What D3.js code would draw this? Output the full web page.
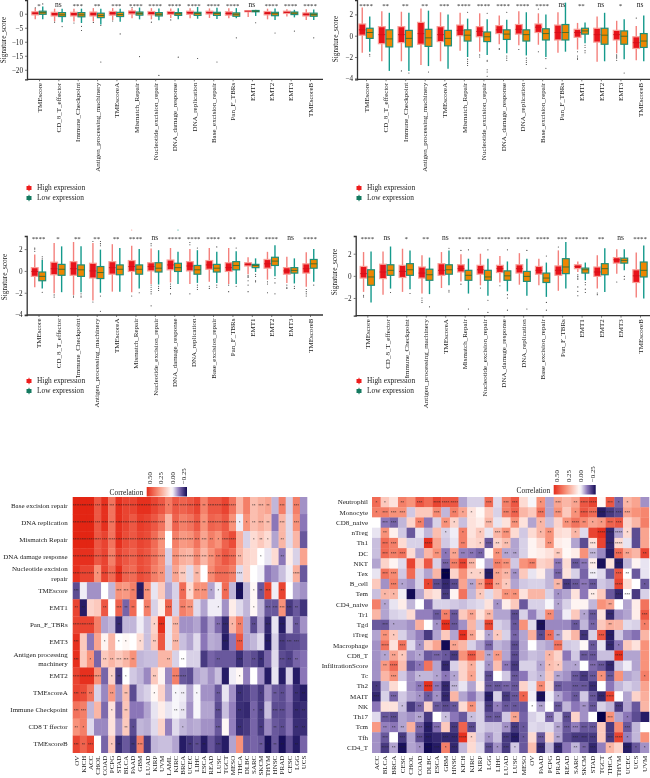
<!DOCTYPE html>
<html><head><meta charset="utf-8">
<script src="https://cdnjs.cloudflare.com/ajax/libs/d3/7.8.5/d3.min.js"></script>
<style>
html,body{margin:0;padding:0;background:#fff}
svg{display:block;filter:blur(0.35px)}
text{font-family:"Liberation Serif",serif;fill:#222}
</style></head><body><svg id="c" width="650" height="778"></svg>
<script>
const signatures=["TMEscore","CD_8_T_effector","Immune_Checkpoint","Antigen_processing_machinery","TMEscoreA","Mismatch_Repair","Nucleotide_excision_repair","DNA_damage_response","DNA_replication","Base_excision_repair","Pan_F_TBRs","EMT1","EMT2","EMT3","TMEscoreB"];
// each box: [low whisker, q1, median, q3, high whisker, outliers]
const panelAHigh=[[-2,-.4,.2,.7,2,[2.1]],[-2.7,-.8,-.1,.5,1.8,[-3]],[-2.8,-.8,-.1,.5,1.8,[-3.3]],[-2.7,-.8,-.1,.6,2,[-3.1]],[-2.3,-.5,.2,.8,2,[-2.6]],[-1.6,-.1,.5,1,2,[2.2]],[-2,-.4,.2,.8,2,[-3]],[-1.5,-.2,.3,.8,1.9,[-2.2]],[-1.6,-.2,.4,.9,2,[]],[-1.5,-.1,.4,.9,1.9,[]],[-1.6,-.5,.1,.7,2,[]],[-1.2,.7,.9,1.1,1.3,[]],[-2,-.4,.2,.8,1.8,[]],[-1,.1,.5,.9,1.6,[]],[-2.2,-.8,-.2,.3,1.6,[]]];
const panelALow=[[-2,-.2,.4,.9,2.6,[3.5]],[-3,-1,-.4,.4,1.8,[-4.6]],[-3.3,-1.1,-.4,.4,1.8,[-4.5,-6]],[-3.8,-1.4,-.6,.2,1.8,[-4.2,-17.2]],[-2.9,-1,-.3,.5,1.8,[-7.2]],[-2,-.5,.1,.6,2.2,[-15.3]],[-2.3,-.8,-.2,.4,1.9,[-22]],[-2,-.6,0,.4,2,[-15.5]],[-1.8,-.6,.1,.5,2.4,[-16]],[-1.9,-.6,.1,.5,2.1,[-17.2]],[-1.6,-.9,-.2,.3,2,[-8.6]],[-.8,.7,.9,1.15,1.4,[-3.2]],[-2.2,-.7,0,.5,1.9,[-6.9]],[-1.3,-.3,.2,.6,1.4,[-6.2]],[-2.2,-.9,-.3,.2,1.5,[-8.6]]];
const panelBHigh=[[-1.6,.05,.55,1.1,2.65,[]],[-2.4,-.75,.1,.85,2.3,[]],[-2.4,-.65,.1,.85,2.25,[-3.3]],[-2.75,-.8,.2,1.25,2.55,[]],[-2.4,-.55,.1,.85,2.2,[]],[-1.4,0,.5,1,2.15,[]],[-1.5,-.1,.4,.85,2.1,[-1.8,-2]],[-.8,.2,.55,.95,1.9,[-1.2,-1.3]],[-.9,.15,.6,1.05,2.3,[-1.3]],[-.85,.3,.8,1.1,2.1,[2.5,-1.5]],[-1.6,-.4,.3,1,2.2,[]],[-1.3,-.15,.3,.6,1.2,[-1.5,-1.9,-2.1,-2.2]],[-2.45,-.6,.1,.7,1.8,[]],[-1.65,-.4,.1,.5,1.4,[-1.8,-1.9,-2,-2.1,-2.3]],[-2.3,-1.2,-.65,-.1,.9,[1.65]]];
const panelBLow=[[-1.5,-.25,.3,.7,1.8,[-1.75,-1.9]],[-3.3,-1.05,-.3,.55,2.15,[]],[-3.3,-1.05,-.25,.5,2.15,[-3.5]],[-2.85,-1,-.2,.6,2.35,[-3.4]],[-3.1,-.95,-.25,.5,2,[]],[-2,-.5,.05,.55,1.6,[2.2,-2.2,-2.4,-2.6,-2.8]],[-1.8,-.55,-.1,.35,1.55,[2.1,-2.3,-2.4,-3.2,-3.4,-3.8]],[-1.65,-.35,.15,.55,1.5,[2.2,-1.9,-2.1,-2.3]],[-1.85,-.5,.1,.55,2.2,[-2.1,-2.3,-2.5,-2.7]],[-2,-.4,.2,.65,2,[-2.15,-3.05]],[-1.5,-.4,.3,1.05,3.1,[]],[-.7,.15,.45,.7,1.25,[-.9,-1.1,-1.4,-1.6]],[-2.4,-.8,.05,.7,2.15,[]],[-2.2,-.8,-.05,.45,1.55,[-3.5]],[-2.4,-1.1,-.5,.2,1.9,[]]];
const panelCHigh=[[-1.5,-.5,-.05,.3,1.5,[1.8,2,2.1]],[-2.05,-.35,.2,.8,2.55,[-2.2,-2.4]],[-2.2,-.4,.2,.85,2.65,[-2.3,-2.4]],[-2.7,-.65,0,.7,2.55,[2.7,-2.85]],[-1.9,-.3,.3,.85,2.45,[]],[-1.95,-.05,.4,.95,2.3,[-2.3,3.75]],[-1.2,0,.4,.75,2.05,[2.5,2.3,-1.3,-1.5,-1.7,-1.9,-2.1,-3.2]],[-1.05,.1,.55,1,2.1,[-1.2,-1.4,-1.6,-2.1]],[-1.2,0,.45,.85,2,[2.4,2.6,-2.1]],[-1,.15,.55,.95,2.1,[-1.4,-1.6]],[-1.2,-.05,.3,.75,2.1,[-1.3,-1.9]],[-.3,.45,.6,.75,1.25,[-.4,-.5,-.6,-.9,-1.3,-1.9]],[-.8,.25,.65,1.05,1.75,[-1,-1.2,-2]],[-1.1,-.3,0,.3,1.3,[-1.3,-1.5,-1.6]],[-1.45,-.2,.2,.65,1.7,[-1.7,-1.9,-2.1,-2.3]]];
const panelCLow=[[-1.6,-.9,-.5,-.1,1,[1.1,1.3,-1.95]],[-1.95,-.4,.15,.6,2.25,[]],[-1.95,-.5,.1,.55,2.25,[-2.1,-2.3,-2.4]],[-2,-.7,-.15,.4,1.95,[2.5,2.7,2.3,-2.3,-3.7]],[-1.9,-.35,.15,.55,2.1,[]],[-1.6,-.3,.15,.55,2,[-2]],[-1.25,-.1,.25,.75,1.9,[-1.4,-1.6,-1.8]],[-1.2,-.05,.3,.7,1.75,[3.75]],[-1.1,-.3,.1,.5,1.9,[2.1,-1.3,-1.5,-1.7]],[-1.1,-.1,.25,.6,1.75,[2.2,-1.3,-1.5]],[-1.2,.1,.5,.85,1.8,[2.1,-1.4]],[-.1,.3,.5,.6,1.15,[-.3,-.5,-.9,-1]],[-.5,.5,.9,1.25,2.35,[-.7,-1.1,-2.1]],[-1.15,-.2,.05,.3,1.15,[-1.4,-1.6]],[-1,.25,.65,1.05,2,[-1.3]]];
const panelDHigh=[[-1.45,-.2,.2,.85,2.15,[-1.75,-1.9]],[-1.7,-.25,.35,1.05,2.2,[]],[-1.45,-.15,.4,.95,2.45,[]],[-1.6,-.2,.25,.8,1.85,[-2,-2.2,-2.4]],[-1.1,.05,.5,1.1,2.15,[]],[-.5,.35,.65,1,1.95,[2.3,-.75]],[-.85,.15,.55,.95,2,[-1.1]],[-.6,.3,.65,.95,1.8,[-.9]],[-.8,.25,.65,1,2.05,[]],[-.85,.15,.5,.85,1.55,[]],[-1.35,.05,.5,.9,2.3,[2.6]],[.35,.65,.85,1,1.3,[.1,-.05,-.2,-.3,-1,-1.4,-1.8]],[-1.15,-.05,.35,.8,1.85,[-1.55,-1.7]],[.2,1.15,1.45,1.65,2.4,[-.55]],[-1.95,-.6,0,.55,2.1,[]]];
const panelDLow=[[-2.4,-.85,-.1,.55,2.2,[]],[-1.15,.05,.5,1,2.65,[-1.5]],[-1.2,.05,.55,1.1,2.3,[-1.6]],[-1.65,-.4,.1,.6,1.65,[-2.8]],[-.85,.15,.55,1,2.3,[2.5,-1.3,-1.45]],[-1.6,-.4,.05,.5,1.55,[2.35,-3]],[-1.8,-.4,-.1,.5,1.55,[2.35,-2.2,-3.3]],[-1.4,-.4,0,.45,1.3,[2.35,-1.7,-2,-3.1]],[-1.8,-.5,-.05,.4,1.55,[2.3,-3]],[-1.9,-.6,-.2,.25,1.2,[1.8,-2.4,-3.1]],[-1.15,.2,.8,1.55,3.05,[]],[-.4,.25,.55,.7,1.2,[-.6,-.8,-1.2,-1.5]],[-1.45,.1,.65,1.1,2.5,[]],[.5,1.15,1.4,1.6,2.4,[-.05,-.3]],[-2.05,-.1,.5,1.25,2.75,[]]];
const sigA=["*","ns","***","**","***","****","****","****","****","****","****","ns","****","****","****"];
const sigB=["****","**","**","**","***","****","****","****","****","****","ns","**","ns","*","ns"];
const sigC=["****","*","**","**","**","****","ns","****","****","****","**","****","****","ns","****"];
const sigD=["****","ns","*","**","ns","****","****","****","****","****","***","****","**","ns","****"];
const legendLabels=["High expression","Low expression"];
const yTicksA=[0,-5,-10,-15,-20], yTicksB=[2,0,-2,-4], yTicksD=[2,0,-2];

const leftRows=["Base excision repair","DNA replication","Mismatch Repair","DNA damage response","Nucleotide excision|repair","TMEscore","EMT1","Pan_F_TBRs","EMT3","Antigen processing|machinery","EMT2","TMEscoreA","Immune Checkpoint","CD8 T ffector","TMEscoreB"];
const leftCols=["OV","KICH","ACC","CHOL","COAD","PCPG","STAD","BLCA","PAAD","GBM","LUAD","KIRP","UVM","LAML","KIRC","BRCA","UCEC","LIHC","ESCA","READ","LUSC","TGCT","MESO","THCA","DLBC","SARC","SKCM","THYM","HNSC","PRAD","CESC","LGG","UCS"];
const leftValues=[
[.58,.58,.58,.45,.55,.38,.55,.5,.5,.55,.55,.5,.45,.36,.45,.42,.45,.5,.34,.45,.45,.5,.38,.2,.35,.18,.22,.25,-.08,.35,-.05,.35,-.12],
[.58,.58,.58,.45,.55,.38,.55,.5,.45,.52,.5,.45,.38,.2,.42,.35,.38,.45,.3,.42,.4,.45,.3,-.02,.3,.18,.22,.18,-.15,.2,-.04,.3,-.15],
[.58,.58,.58,.45,.5,.38,.55,.48,.45,.5,.48,.4,.3,0,.35,.28,.3,.38,.25,.35,.3,.42,.48,.22,-.05,.1,.15,.1,-.1,.2,-.04,.2,-.2],
[.55,.55,.55,.45,.5,.35,.5,.45,.42,.48,.45,.38,.3,-.05,.3,.22,.2,.32,.2,.3,.38,.45,.4,.2,.12,.1,0,-.03,.1,-.15,.05,-.05,.25],
[.55,.5,.5,.3,.5,.4,.55,.42,.4,.48,.45,.35,.3,-.07,.25,.15,-.04,.2,0,.32,.4,.4,.35,-.04,.12,0,-.02,-.15,-.12,-.07,-.02,.22,-.2],
[-.22,-.02,-.12,-.12,0,-.08,.3,.28,.35,-.3,.3,-.03,.15,-.1,-.05,.4,.1,.3,.3,-.1,-.02,.4,-.08,-.32,-.08,.02,-.2,.5,-.02,.5,0,-.1,-.12],
[.5,-.3,.12,.15,.45,0,.42,-.18,.4,0,.35,-.05,.05,.42,-.05,.35,.3,-.04,-.1,-.02,-.02,-.12,.05,-.04,-.08,.02,-.08,-.2,-.2,.3,-.25,-.2,-.26],
[.5,.5,.5,.35,-.1,-.08,-.28,-.08,-.08,-.02,-.07,.12,.55,-.03,.2,-.12,-.12,-.1,-.18,-.1,-.17,-.28,.2,.35,-.1,-.22,-.1,-.28,-.03,-.3,-.06,-.2,-.12],
[.55,.15,-.15,.25,.03,.2,0,.02,0,.1,-.07,.15,.45,-.03,.2,-.07,-.1,-.04,-.15,-.09,-.1,-.3,-.15,.45,-.1,-.08,-.04,-.3,-.05,-.25,-.22,-.22,-.2],
[.55,.15,.3,-.18,.15,.2,.15,.2,.3,-.08,-.07,-.07,.2,.2,-.05,0,-.05,-.05,-.25,-.18,-.2,-.2,-.2,-.27,-.2,-.22,-.27,-.18,-.04,-.22,-.24,-.18,-.16],
[.5,.55,.55,.3,-.18,.12,-.25,0,-.06,-.08,-.13,.15,.03,-.13,.35,-.2,-.22,-.1,-.08,-.12,-.07,-.3,-.02,.02,-.14,0,-.12,-.3,-.03,-.3,-.05,-.3,-.15],
[.5,.48,.38,-.05,-.13,.28,-.12,.18,-.22,-.07,-.05,.02,.12,-.1,-.01,-.02,-.1,-.01,-.12,-.12,-.2,-.03,-.12,-.27,-.25,-.2,-.25,-.12,-.2,-.22,-.16,-.27,-.3],
[.38,.35,-.08,.2,-.17,.08,-.18,.16,-.15,-.15,-.1,-.03,.05,-.03,-.01,-.03,-.12,-.01,-.1,-.1,-.22,-.07,-.14,-.27,-.28,-.18,-.25,-.07,-.22,-.22,-.18,-.28,-.27],
[.3,.35,-.04,-.13,-.13,.08,-.12,.15,-.22,-.08,-.09,-.04,.12,-.14,-.04,-.08,-.1,-.09,-.12,-.12,-.2,.02,-.14,-.27,-.25,-.18,-.25,-.13,-.2,-.22,-.16,-.27,-.27],
[.5,.42,.5,0,-.18,.15,-.27,-.2,-.26,.35,-.25,-.08,-.07,-.07,-.1,-.3,-.26,-.22,-.3,-.2,-.25,-.3,-.1,.3,-.2,-.18,-.2,-.32,-.2,-.32,-.22,-.3,-.18]];
// significance marks, "column:stars"
const leftStars=[
"0:4,1:4,2:4,3:3,4:4,5:3,6:4,7:4,8:4,9:4,10:4,11:4,12:4,13:1,14:3,15:4,16:4,17:4,18:2,19:4,20:4,21:4,22:4,25:2,26:3,27:2,29:3,31:3",
"0:4,1:4,2:4,3:3,4:4,5:3,6:4,7:4,8:4,9:4,10:4,11:4,12:4,14:3,15:4,16:4,17:4,18:2,19:4,20:4,21:4,22:4,23:1,24:1,25:2,26:3,27:2,29:3,31:3",
"0:4,1:4,2:4,3:4,4:3,5:4,6:4,7:4,8:4,9:4,10:4,11:4,12:4,14:4,15:4,16:4,17:3,18:3,19:2,20:1,21:4,22:4,25:1,26:2,27:1,29:2",
"0:4,1:4,2:4,3:4,4:4,5:4,6:4,7:4,8:4,9:4,10:4,11:4,12:4,14:4,15:4,16:4,17:4,18:3,19:3,20:3,21:4,22:4,23:2,26:1,29:2",
"0:4,1:4,2:4,3:1,4:4,5:4,6:4,7:4,8:4,9:4,10:4,11:3,12:2,14:3,15:3,17:2,19:4,20:4,21:4,22:4,23:3,31:4",
"0:3,6:3,7:3,8:2,9:2,10:3,15:2,16:1,17:3,18:3,19:1,20:1,21:2,23:3,25:1,26:2,27:3,29:2",
"0:2,1:2,4:2,6:3,7:2,8:2,10:3,13:3,15:3,16:3,20:1,25:1,27:3,28:3,29:3,30:3,31:2",
"0:4,1:4,2:4,6:2,11:1,12:3,14:3,20:2,21:3,22:1,23:2,25:2,27:3,29:3,31:2",
"0:3,4:1,6:1,7:1,9:1,11:2,14:3,21:3,23:3,27:3,29:3,30:3,31:3",
"0:3,2:1,4:2,5:2,6:3,7:3,8:2,13:2,15:2,20:2,23:3,25:2,26:2,29:3,30:2,31:2",
"0:4,1:4,2:4,3:4,5:1,6:2,7:1,11:2,14:4,15:4,23:1",
"0:3,1:3,2:2,5:2,7:2,11:1,14:1,15:2,17:1,20:2,23:2,26:1,28:2,29:2,31:2,32:2",
"0:3,1:3,5:1,7:2,14:2,15:2,20:3,23:2,25:1,26:2,28:3,29:3,31:2,32:2",
"0:2,1:1,7:2,8:1,15:1,20:3,23:2,26:2,28:2,29:2,31:2,32:2",
"0:3,1:2,2:3,5:1,6:2,8:2,9:3,16:2,17:2,18:2,20:3,26:2,27:1,28:2,29:2,31:2"];

const rightRows=["Neutrophil","Monocyte","CD8_naive","nTreg","Th1","DC","NKT","Tex","B_cell","Tem","CD4_naive","Tr1","Tgd","iTreg","Macrophage","CD8_T","InfiltrationScore","Tc","Th2","MAIT","NK","Th17","Tcm","Tfh","CD4_T"];
const rightCols=["ACC","BLCA","BRCA","CESC","CHOL","COAD","DLBC","ESCA","GBM","HNSC","KICH","KIRC","KIRP","LGG","LIHC","LUAD","LUSC","MESO","OV","PAAD","PCPG","PRAD","READ","SARC","SKCM","STAD","TGCT","THCA","THYM","UCEC","UCS","UVM"];
const rightValues=[
[.4,.15,.08,.35,.3,.45,.4,.5,.45,.45,-.1,-.05,-.05,.4,-.04,.35,.45,.1,-.01,.3,-.1,.25,.2,.25,.45,.5,.02,.45,-.18,.2,.25,-.12],
[.35,.35,.3,.3,-.06,.15,.15,.32,-.08,.35,.25,.08,.02,.15,-.05,.35,.42,.2,.15,.38,-.1,.3,.15,.3,.45,.4,-.3,-.25,-.22,.25,.3,.33],
[0,-.15,-.18,-.08,.12,.35,-.15,-.05,.3,.12,-.07,.08,.05,.2,-.03,.08,.3,.08,-.1,.2,-.07,.12,.3,.38,.32,.25,.28,.42,.45,.12,.2,.35],
[-.03,.3,.04,-.06,-.2,-.03,-.08,.18,-.05,-.02,.35,.08,.15,-.03,.2,.3,.1,-.06,.1,.2,.3,.1,.08,.2,-.04,.5,.55,-.28,-.1,.1,-.22,.25],
[-.07,.4,.35,.1,-.05,-.05,.55,.25,-.06,-.03,.35,.1,.12,-.2,.12,.18,-.1,-.05,.03,.1,.3,.05,.03,-.1,-.22,.08,.5,-.28,.1,-.03,-.22,.25],
[-.07,.4,.35,.38,.1,-.1,.2,.3,-.15,.25,-.14,-.15,-.18,.02,.3,-.1,-.1,-.05,.03,.05,.08,.15,.02,.05,.3,-.08,-.13,-.3,.4,.25,.2,.5],
[-.1,.12,.03,-.04,.5,.15,.45,-.05,-.18,.35,.5,.2,0,-.1,.35,.3,-.06,.3,.35,.12,.15,-.15,.1,-.2,-.15,.05,-.32,.08,-.3,-.08,.03,-.03],
[-.03,.38,.32,-.06,.4,-.05,-.1,.2,-.35,.12,.3,.12,.12,-.3,.25,.2,-.12,.15,-.03,.05,-.08,-.18,.08,-.05,-.18,-.02,-.04,-.2,.45,0,-.2,-.03],
[.15,-.12,.35,-.1,-.12,-.05,.5,-.22,-.28,-.22,.25,-.1,.25,.5,.25,.15,-.1,-.06,-.05,-.05,-.08,.2,-.25,-.2,-.15,-.2,-.06,-.08,.5,.1,0,-.2],
[-.07,.2,.2,-.02,-.33,-.1,.12,.08,-.25,.03,.38,-.08,.15,-.04,.15,.3,.3,.08,.2,.2,-.05,-.12,-.1,.08,-.15,.05,.15,-.2,-.28,0,-.25,-.05],
[.35,-.1,-.03,.05,-.08,0,-.18,-.05,-.05,-.06,-.07,-.05,-.04,.08,-.12,.05,.15,-.2,-.05,-.05,-.01,-.1,-.05,.03,.03,-.08,.3,.25,0,-.1,.05,.38],
[.2,-.1,-.05,-.04,.1,-.14,-.14,-.2,.35,-.2,.15,.25,.08,.2,-.1,-.1,-.22,-.05,-.14,-.06,.32,-.12,-.02,.15,-.1,-.2,.08,-.28,-.12,-.1,.05,.45],
[-.2,-.2,-.1,-.1,-.12,.22,0,-.12,.55,-.2,-.12,.2,-.06,.5,-.05,-.07,-.2,.3,-.04,-.32,-.13,-.13,-.13,-.2,-.08,-.18,.15,.22,.2,-.04,-.05,.35],
[-.1,.3,.15,-.05,-.1,-.14,-.25,-.1,.15,-.1,.55,.25,.05,-.1,.15,-.05,-.18,-.1,.22,-.22,.4,-.1,.08,.2,-.26,-.05,.45,-.3,-.06,-.13,-.16,.2],
[-.12,.38,.08,.38,-.04,-.12,.15,.25,-.33,.25,.2,-.05,-.1,-.18,-.08,-.1,-.22,-.1,0,-.08,-.1,.38,-.06,-.05,.02,-.2,-.03,-.28,-.15,.15,.08,.3],
[-.12,-.1,.25,.15,-.12,-.1,-.2,-.18,-.2,-.25,.3,.45,.28,-.1,.28,-.1,-.22,-.1,-.07,-.08,.2,.12,-.15,-.06,-.2,-.2,-.07,-.07,.55,-.1,-.1,.3],
[-.12,.28,.4,.18,-.2,-.15,.38,-.1,-.28,-.05,.12,.22,-.03,-.12,.18,-.15,-.25,-.05,-.05,-.1,.18,.15,-.1,-.1,0,-.17,-.2,-.28,-.06,-.02,-.1,.3],
[-.12,.2,.3,-.06,-.12,-.08,-.08,-.1,-.15,-.1,.12,.25,-.03,-.22,0,-.06,-.2,-.15,-.06,-.08,.15,-.1,-.12,-.2,-.25,-.2,.3,-.2,.3,-.1,-.08,.35],
[-.25,-.08,.1,0,-.12,-.15,.55,-.15,-.28,-.08,-.03,-.1,.05,-.2,-.2,-.18,-.2,.12,-.03,.32,.1,-.2,-.18,-.2,-.2,-.27,0,-.15,-.08,-.05,-.07,.25],
[-.28,-.05,-.18,-.06,-.1,-.12,-.2,-.12,-.28,.2,-.1,-.15,-.08,-.3,-.05,-.25,-.2,.42,-.02,-.32,-.02,-.1,-.15,-.2,-.06,-.2,-.28,.5,0,-.1,.12,.22],
[-.15,.08,.08,-.07,-.25,-.18,.12,-.2,-.22,-.2,.1,.3,-.05,-.25,-.14,-.2,-.2,-.2,0,-.1,0,-.2,-.08,-.15,-.12,-.2,-.05,-.08,-.25,-.1,-.2,.2],
[-.04,-.2,-.22,-.1,-.12,-.1,-.25,0,-.07,-.15,-.2,-.07,-.05,-.2,-.2,-.06,.25,-.18,-.05,-.03,-.18,-.06,-.22,.12,-.12,0,-.35,.3,-.1,-.15,-.22,-.3],
[.28,-.14,-.15,-.1,.22,-.18,-.3,-.16,.15,-.25,.42,-.22,-.05,-.07,-.07,-.12,-.25,-.2,-.04,-.05,-.04,-.1,-.2,-.14,-.2,-.2,.15,-.25,.32,-.2,-.08,0],
[-.12,-.2,0,-.25,-.1,-.22,-.3,-.28,-.28,-.28,.55,.12,-.06,-.12,-.07,-.25,-.3,-.2,.1,-.2,.12,-.1,-.22,-.25,-.25,-.25,.15,-.25,.5,-.14,-.08,.3],
[-.12,-.25,-.1,-.32,-.1,-.12,-.33,-.3,.35,-.28,-.08,.1,-.04,-.22,-.12,-.25,-.06,-.2,.18,-.28,-.08,-.28,-.15,-.08,-.18,-.28,-.14,.2,.12,-.3,-.2,-.12]];
const rightStars=[
"0:1,1:1,3:2,5:3,7:4,8:4,9:4,13:3,15:3,16:3,19:1,21:3,23:2,24:4,25:4,27:3,28:1,29:1",
"0:1,1:3,2:3,3:3,7:3,9:2,10:1,11:1,15:3,16:3,19:3,21:3,23:1,24:4,25:4,26:4,27:4,28:3,29:3",
"1:3,2:3,5:2,8:2,9:1,13:3,16:3,19:1,22:2,23:4,24:2,25:1,26:1,27:3,28:3",
"1:2,8:1,10:1,12:1,14:3,15:3,19:1,20:2,23:1,26:4,27:4,28:4,29:1",
"1:3,2:3,6:4,10:2,12:1,13:3,14:2,15:2,20:2,25:3,27:4,28:4",
"1:3,2:3,3:3,7:2,8:1,9:2,10:2,11:2,12:2,14:2,15:2,16:2,21:2,25:3,28:3,29:2,31:2",
"8:3,9:3,10:3,11:3,14:3,15:3,18:3,21:3,23:3,24:3,25:3,28:3",
"1:3,2:3,8:4,11:1,12:1,13:3,14:2,15:2,16:2,21:3,25:3,28:3,29:2",
"2:3,3:1,6:1,7:3,8:3,9:3,11:2,12:2,13:4,14:2,15:1,21:2,22:3,23:3,24:3,25:3,28:4,31:1",
"1:1,2:1,8:3,12:1,15:2,16:2,21:1,25:2,28:3,29:3",
"1:1,14:1,21:1,27:2",
"7:2,8:2,9:3,11:2,13:2,16:3,20:2,24:1,25:3,27:3,31:3",
"1:3,2:1,7:1,8:4,9:3,13:4,16:2,19:3,23:2,25:2,27:2,31:1",
"1:2,2:1,10:3,11:2,13:1,14:1,16:2,19:2,20:2,21:2,24:3,26:3,27:3",
"1:4,3:3,5:1,9:2,13:3,16:3,21:4,25:2,27:3,28:1",
"1:1,2:2,3:1,5:1,7:3,8:1,9:3,11:4,13:2,14:2,16:3,20:1,24:3,25:3,28:4",
"1:2,2:4,5:1,8:3,11:1,13:1,15:2,16:3,19:1,20:1,21:1,23:1,25:3,26:3,27:3",
"2:3,5:1,7:1,8:1,9:1,11:1,13:3,16:3,19:1,21:2,23:3,24:3,25:3,26:1,27:3,31:1",
"0:1,5:2,6:4,7:2,8:3,9:3,13:3,14:3,15:3,16:3,19:2,21:3,23:3,24:3,25:3",
"0:3,2:3,5:1,6:1,7:1,8:3,13:3,15:3,16:3,17:1,19:4,21:1,23:2,25:3,26:3,27:4",
"3:1,5:2,7:2,8:3,9:2,11:2,13:3,14:1,15:2,16:2,18:1,19:2,21:3,24:2,25:3,28:3",
"1:3,2:3,5:2,8:1,11:1,13:3,14:3,16:2,20:3,22:3,27:3,29:1",
"1:2,2:2,3:2,5:3,6:3,7:3,9:3,11:3,15:2,16:3,17:1,21:2,22:3,23:3,24:3,25:3,29:3",
"1:3,3:3,5:3,6:3,8:3,9:3,10:4,11:1,13:1,15:3,16:3,17:1,19:3,21:2,23:3,24:3,25:3,27:3,28:4,29:1",
"1:4,2:2,3:4,5:1,6:3,7:3,8:1,9:3,13:3,14:1,15:3,16:1,19:3,21:3,23:2,24:2,25:3,27:1,29:4,30:1,31:1"];
const legendTicks=[.5,.25,0,-.25];

const svg=d3.select("#c");
const colorScale=d3.scaleLinear().domain([.6,.3,0,-.15,-.33]).range(["#e21d0c","#f8927a","#ffffff","#8b76b8","#120a55"]);

function boxPanel(p){
  const g=svg.append("g");
  const x=d3.scalePoint().domain(signatures).range(p.xr);
  const y=d3.scaleLinear().domain(p.yd).range(p.yr);
  const off=3.75, bw=6.8;
  const ya=g.append("g").attr("transform",`translate(${p.axisX},0)`)
    .call(d3.axisLeft(y).tickValues(p.yticks).tickSize(2).tickPadding(2).tickFormat(d=>d<0?"\u2212"+(-d):d));
  const xa=g.append("g").attr("transform",`translate(0,${p.yr[1]})`)
    .call(d3.axisBottom(x).tickSize(2).tickSizeOuter(0));
  xa.select(".domain").attr("d",`M${p.axisX},0H${p.xEnd}`);
  g.selectAll(".domain").attr("stroke","#333").attr("stroke-width",1.3);
  g.selectAll(".tick line").attr("stroke","#444").attr("stroke-width",.7);
  ya.selectAll("text").style("font-size","7.2px");
  xa.selectAll("text").style("font-size","7px").style("text-anchor","end")
    .attr("transform","rotate(-90)").attr("x",-3.5).attr("y",0).attr("dy","0.32em");
  g.append("text").attr("transform",`translate(${p.titleX},${p.titleY}) rotate(-90)`)
    .attr("text-anchor","middle").style("font-size","7.2px").text("Signature_score");
  [[p.high,-off,"#f4807c","#e8131a","#f9a09a"],[p.low,off,"#149a8c","#ee8600","#1f8f78"]].forEach(([data,dx,wc,fc,sc],k)=>{
    const s=g.append("g");
    data.forEach((b,i)=>{
      const cx=x(signatures[i])+dx;
      s.append("line").attr("x1",cx).attr("x2",cx).attr("y1",y(b[0])).attr("y2",y(b[4]))
        .attr("stroke",wc).attr("stroke-width",1.4);
      s.append("rect").attr("x",cx-bw/2).attr("width",bw).attr("y",y(b[3]))
        .attr("height",Math.max(.6,y(b[1])-y(b[3]))).attr("fill",fc).attr("stroke",sc).attr("stroke-width",1.2);
      s.append("line").attr("x1",cx-bw/2).attr("x2",cx+bw/2).attr("y1",y(b[2])).attr("y2",y(b[2]))
        .attr("stroke",k?"#3a6b2a":"#d4101a").attr("stroke-width",.9);
      s.selectAll(null).data(b[5]).join("circle").attr("cx",cx).attr("cy",d=>y(d)).attr("r",.55)
        .attr("fill",d=>Math.abs(d)>3.7&&p.stray?wc:"#333");
    });
  });
  g.selectAll(null).data(p.sig).join("text").attr("x",(d,i)=>x(signatures[i]))
    .attr("y",d=>p.sigY+(d==="ns"?0:1)).attr("text-anchor","middle")
    .style("font-size",d=>d==="ns"?"7.5px":"6.8px").text(d=>d);
  legendLabels.forEach((t,i)=>{
    const ly=p.legY+i*p.legStep;
    g.append("rect").attr("x",p.legX-2.5).attr("y",ly-2).attr("width",5).attr("height",4)
      .attr("fill",i?"#147a60":"#ee1c1c");
    g.append("line").attr("x1",p.legX).attr("x2",p.legX).attr("y1",ly-3.2).attr("y2",ly+3.2)
      .attr("stroke",i?"#147a60":"#ee1c1c").attr("stroke-width",1);
    g.append("text").attr("x",p.legX+8).attr("y",ly+2.3).style("font-size","7.4px").text(t);
  });
}
boxPanel({high:panelAHigh,low:panelALow,sig:sigA,xr:[39,310],yd:[4.9,-23.4],yr:[0,79.3],axisX:27,xEnd:323,yticks:yTicksA,titleX:6,titleY:40,sigY:6.5,legX:29,legY:188,legStep:10});
boxPanel({high:panelBHigh,low:panelBLow,sig:sigB,xr:[366,640],yd:[3.35,-4.09],yr:[0,79.3],axisX:357,xEnd:650,yticks:yTicksB,titleX:338,titleY:39,sigY:6.5,legX:359,legY:188,legStep:10});
boxPanel({high:panelCHigh,low:panelCLow,sig:sigC,xr:[38.5,310],yd:[3.2,-4.04],yr:[236,315],axisX:26.7,xEnd:323,yticks:yTicksB,titleX:7,titleY:277,sigY:240,legX:29,legY:381,legStep:10,stray:true});
boxPanel({high:panelDHigh,low:panelDLow,sig:sigD,xr:[367.3,640],yd:[3.6,-3.6],yr:[236,315.7],axisX:355.7,xEnd:650,yticks:yTicksD,titleX:337,titleY:272,sigY:240,legX:359,legY:381,legStep:10});

function heat(h){
  const g=svg.append("g");
  const x=d3.scaleBand().domain(h.cols).range(h.xr);
  const y=d3.scaleBand().domain(h.rows).range(h.yr);
  h.values.forEach((row,r)=>{
    g.selectAll(null).data(row).join("rect")
      .attr("x",(d,c)=>x(h.cols[c])).attr("y",y(h.rows[r]))
      .attr("width",x.bandwidth()+.3).attr("height",y.bandwidth()+.3)
      .attr("fill",d=>colorScale(d));
    const st=h.stars[r].split(",").map(s=>s.split(":").map(Number));
    g.selectAll(null).data(st).join("text")
      .attr("x",d=>x(h.cols[d[0]])+x.bandwidth()/2).attr("y",y(h.rows[r])+y.bandwidth()/2+1.6)
      .attr("text-anchor","middle").style("font-size",h.starFont).style("fill","#222")
      .text(d=>"*".repeat(d[1]));
  });
  const ay=g.append("g").attr("transform",`translate(${h.xr[0]},0)`)
    .call(d3.axisLeft(y).tickSize(0).tickPadding(h.rowPad).tickFormat(""));
  ay.select(".domain").remove();
  ay.selectAll(".tick").each(function(d){
    const parts=d.split("|");
    const t=d3.select(this).append("text").attr("x",-h.rowPad).attr("text-anchor","end")
      .style("font-size",h.rowFont).style("fill","#222");
    parts.forEach((s,i)=>t.append("tspan").attr("x",-h.rowPad)
      .attr("dy",i?"1.42em":(parts.length>1?"-0.35em":"0.32em")).text(s));
  });
  const ax=g.append("g").attr("transform",`translate(0,${h.yr[1]})`)
    .call(d3.axisBottom(x).tickSize(0));
  ax.select(".domain").remove();
  ax.selectAll("text").style("font-size",h.colFont).style("text-anchor","end")
    .attr("transform","rotate(-90)").attr("x",-3).attr("y",0).attr("dy","0.32em");
  const id="grad"+h.id;
  const lx=d3.scaleLinear().domain([.56,-.33]).range(h.legX);
  const grad=svg.append("defs").append("linearGradient").attr("id",id);
  d3.range(0,1.001,.05).forEach(t=>{
    grad.append("stop").attr("offset",t).attr("stop-color",colorScale(lx.invert(h.legX[0]+t*(h.legX[1]-h.legX[0]))));
  });
  g.append("rect").attr("x",h.legX[0]).attr("y",h.legY).attr("width",h.legX[1]-h.legX[0]).attr("height",9.5).attr("fill",`url(#${id})`);
  const la=g.append("g").attr("transform",`translate(0,${h.legY})`)
    .call(d3.axisTop(lx).tickValues(legendTicks).tickSize(0).tickFormat(d=>(d<0?"\u2212":"")+Math.abs(d).toFixed(2)));
  la.select(".domain").remove();
  la.selectAll("text").style("font-size","6.8px").style("text-anchor","start")
    .attr("transform","rotate(-90)").attr("x",3).attr("y",0).attr("dy","0.32em");
  g.append("text").attr("x",h.legX[0]-3.5).attr("y",h.legY+7.5).attr("text-anchor","end").style("font-size","7.4px").text("Correlation");
}
heat({id:"L",rows:leftRows,cols:leftCols,values:leftValues,stars:leftStars,xr:[72.7,307],yr:[497,752.7],rowPad:5,rowFont:"7px",colFont:"7px",starFont:"3.4px",legX:[146.7,187],legY:487});
heat({id:"R",rows:rightRows,cols:rightCols,values:rightValues,stars:rightStars,xr:[372,649],yr:[497,752.7],rowPad:4,rowFont:"7px",colFont:"7px",starFont:"3.8px",legX:[553.7,595.7],legY:485});
</script></body></html>
